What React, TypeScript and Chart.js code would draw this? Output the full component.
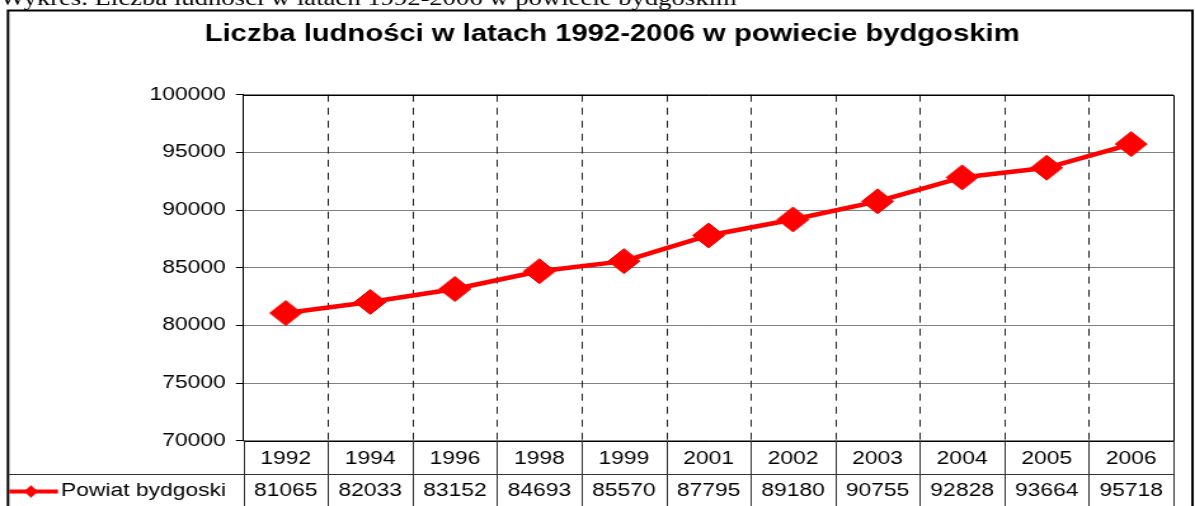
import React, { useEffect, useRef } from "react";
import { Chart, registerables } from "chart.js";

Chart.register(...registerables);

// ---- data ----
const years: string[] = ["1992", "1994", "1996", "1998", "1999", "2001", "2002", "2003", "2004", "2005", "2006"];
const population: number[] = [81065, 82033, 83152, 84693, 85570, 87795, 89180, 90755, 92828, 93664, 95718];
const seriesName = "Powiat bydgoski";
const chartTitle = "Liczba ludności w latach 1992-2006 w powiecie bydgoskim";
const caption = "Wykres. Liczba ludności w latach 1992-2006 w powiecie bydgoskim";
const yMin = 70000;
const yMax = 100000;
const yStep = 5000;

// ---- layout (canvas is drawn narrower and stretched horizontally, like the reference) ----
const PAGE_W = 1195;
const PAGE_H = 506;
const W = 941;
const H = PAGE_H;
const SX = PAGE_W / W;
const FONT = '"Liberation Sans", Arial, sans-serif';
const SERIF = '"Liberation Serif", "Times New Roman", serif';
const RED = "#ff0000";

const PLOT_LEFT = 243.5 / SX;
const PLOT_RIGHT = 1173.5 / SX;
const PLOT_TOP = 94.7;
const PLOT_BOTTOM = 440.7;
const ROW_H = 33.5;
const BOX_LEFT = 8 / SX;
const BOX_RIGHT = 1192.5 / SX;
const BOX_TOP = 10.5;

const framePlugin = {
  id: "frameAndTable",
  beforeDatasetsDraw(chart: any) {
    const { ctx, chartArea: a, scales } = chart;
    const x = scales.x;
    const n = chart.data.labels.length;
    const half = (x.getPixelForValue(1) - x.getPixelForValue(0)) / 2;
    ctx.save();
    // dashed category separators inside the plot
    ctx.strokeStyle = "#222";
    ctx.lineWidth = 1;
    ctx.setLineDash([7, 6]);
    for (let i = 0; i < n - 1; i++) {
      const px = Math.round(x.getPixelForValue(i) + half) + 0.5;
      ctx.beginPath();
      ctx.moveTo(px, a.top);
      ctx.lineTo(px, a.bottom);
      ctx.stroke();
    }
    ctx.setLineDash([]);
    // plot border top/right/bottom
    ctx.strokeStyle = "#000";
    ctx.lineWidth = 1;
    const top = Math.round(a.top) + 0.5;
    const bottom = Math.round(a.bottom) + 0.5;
    const right = Math.round(a.right) + 0.5;
    ctx.beginPath();
    ctx.moveTo(a.left, top);
    ctx.lineTo(right, top);
    ctx.lineTo(right, bottom);
    ctx.lineTo(a.left, bottom);
    ctx.stroke();
    ctx.restore();
  },
  afterDraw(chart: any) {
    const { ctx, chartArea: a, scales } = chart;
    const x = scales.x;
    const n = chart.data.labels.length;
    const half = (x.getPixelForValue(1) - x.getPixelForValue(0)) / 2;
    ctx.save();

    // caption above the box
    ctx.fillStyle = "#000";
    ctx.font = `21px ${SERIF}`;
    ctx.textAlign = "left";
    ctx.textBaseline = "alphabetic";
    ctx.fillText(caption, 0, 5);

    // outer box
    ctx.strokeStyle = "#000";
    ctx.lineWidth = 2;
    ctx.beginPath();
    ctx.moveTo(BOX_LEFT, H + 2);
    ctx.lineTo(BOX_LEFT, BOX_TOP);
    ctx.lineTo(BOX_RIGHT, BOX_TOP);
    ctx.lineTo(BOX_RIGHT, H + 2);
    ctx.stroke();

    // title
    ctx.font = `bold 23px ${FONT}`;
    ctx.textAlign = "center";
    ctx.fillText(chartTitle, 482, 41);

    // data table lines
    ctx.strokeStyle = "#333";
    ctx.lineWidth = 1;
    const rowLine = Math.round(a.bottom + ROW_H) + 0.5;
    ctx.beginPath();
    ctx.moveTo(BOX_LEFT, rowLine);
    ctx.lineTo(a.right, rowLine);
    ctx.stroke();
    for (let i = 0; i <= n; i++) {
      const px = i < n ? x.getPixelForValue(i) - half : a.right;
      const xx = Math.round(px) + 0.5;
      ctx.beginPath();
      ctx.moveTo(xx, a.bottom);
      ctx.lineTo(xx, H);
      ctx.stroke();
    }

    // table texts
    ctx.fillStyle = "#000";
    ctx.font = `18px ${FONT}`;
    ctx.textAlign = "center";
    const values = chart.data.datasets[0].data;
    for (let i = 0; i < n; i++) {
      const cx = x.getPixelForValue(i);
      ctx.fillText(String(chart.data.labels[i]), cx, a.bottom + 23);
      ctx.fillText(String(values[i]), cx, a.bottom + 55.3);
    }

    // legend key
    const ky = a.bottom + 50.8;
    ctx.strokeStyle = RED;
    ctx.lineWidth = 4;
    ctx.beginPath();
    ctx.moveTo(BOX_LEFT + 1, ky);
    ctx.lineTo(58 / SX, ky);
    ctx.stroke();
    ctx.fillStyle = RED;
    const kx = 31 / SX;
    const r = 5.5;
    ctx.beginPath();
    ctx.moveTo(kx - r, ky);
    ctx.lineTo(kx, ky - r * 1.15);
    ctx.lineTo(kx + r, ky);
    ctx.lineTo(kx, ky + r * 1.15);
    ctx.closePath();
    ctx.fill();
    ctx.fillStyle = "#000";
    ctx.textAlign = "left";
    ctx.fillText(chart.data.datasets[0].label, 48, a.bottom + 55.3);

    ctx.restore();
  },
};

export default function App() {
  const ref = useRef<HTMLCanvasElement | null>(null);

  useEffect(() => {
    if (!ref.current) return;
    const chart = new Chart(ref.current, {
      type: "line",
      data: {
        labels: years,
        datasets: [
          {
            label: seriesName,
            data: population,
            borderColor: RED,
            backgroundColor: RED,
            borderWidth: 4.5,
            tension: 0,
            pointStyle: "rectRot",
            pointRadius: 12.5,
            pointHoverRadius: 12.5,
            pointBackgroundColor: RED,
            pointBorderColor: RED,
            pointBorderWidth: 1,
          },
        ],
      },
      options: {
        responsive: false,
        maintainAspectRatio: false,
        animation: false,
        events: [],
        layout: {
          padding: { left: 0, top: PLOT_TOP, right: W - PLOT_RIGHT, bottom: H - PLOT_BOTTOM },
        },
        plugins: {
          legend: { display: false },
          title: { display: false },
          tooltip: { enabled: false },
        },
        scales: {
          x: {
            type: "category",
            offset: true,
            ticks: { display: false },
            grid: { display: false },
            border: { display: false },
            afterFit: (s: any) => {
              s.height = 0;
            },
          },
          y: {
            min: yMin,
            max: yMax,
            ticks: {
              stepSize: yStep,
              color: "#000",
              padding: 8,
              font: { family: FONT, size: 18 },
              callback: (v: any) => String(v),
            },
            grid: {
              color: "#808080",
              lineWidth: 1,
              tickLength: 6,
              tickColor: "#000",
            },
            border: { display: true, color: "#000", width: 1 },
            afterFit: (s: any) => {
              s.width = PLOT_LEFT;
            },
          },
        },
      },
      plugins: [framePlugin],
    });
    return () => chart.destroy();
  }, []);

  return (
    <div
      style={{
        position: "absolute",
        left: 0,
        top: 0,
        width: PAGE_W,
        height: PAGE_H,
        overflow: "hidden",
        background: "#fff",
      }}
    >
      <canvas
        ref={ref}
        width={W}
        height={H}
        style={{
          width: W,
          height: H,
          display: "block",
          transform: `scaleX(${SX})`,
          transformOrigin: "0 0",
        }}
      />
    </div>
  );
}
